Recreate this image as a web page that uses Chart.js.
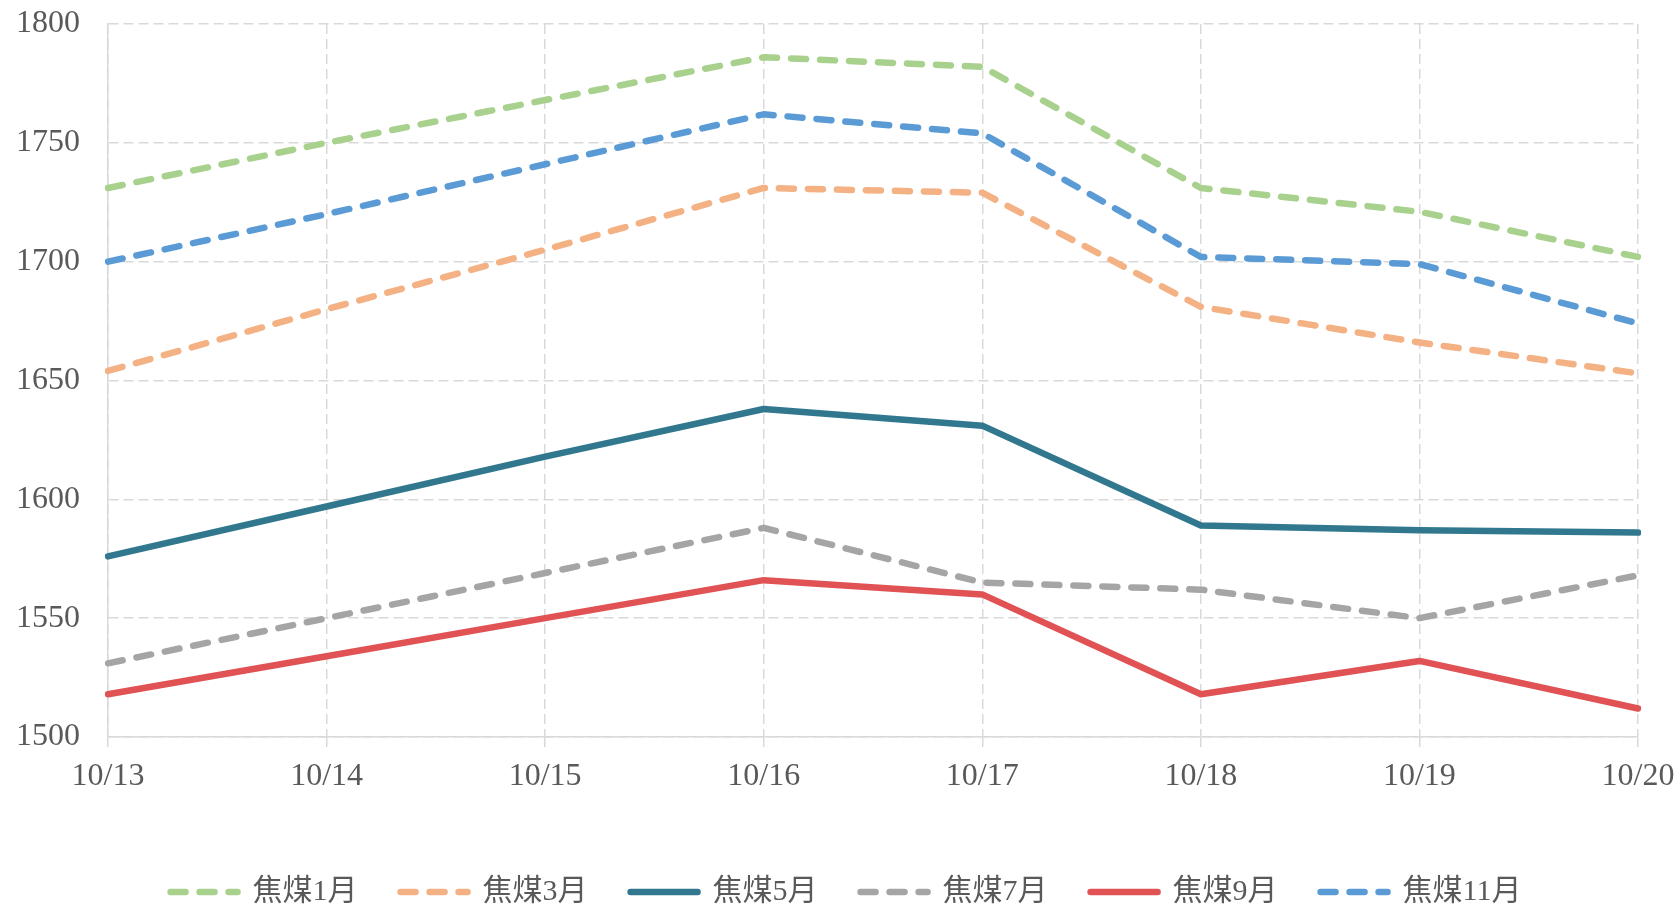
<!DOCTYPE html>
<html lang="zh-CN">
<head>
<meta charset="utf-8">
<title>焦煤价格走势</title>
<script src="https://cdn.jsdelivr.net/npm/chart.js@4.4.1/dist/chart.umd.min.js"></script>
<style>
  html, body { margin: 0; padding: 0; background: #fff; }
  #wrap { width: 1680px; height: 906px; }
</style>
</head>
<body>
<div id="wrap"><canvas id="priceChart" width="1680" height="906"></canvas></div>
<script>
// 日期与各合约价格
const dates = ['10/13', '10/14', '10/15', '10/16', '10/17', '10/18', '10/19', '10/20'];
const seriesNames = ['焦煤1月', '焦煤3月', '焦煤5月', '焦煤7月', '焦煤9月', '焦煤11月'];
const jm01 = [1731, 1750, 1768, 1786, 1782, 1731, 1721, 1702];
const jm03 = [1654, 1680, 1705, 1731, 1729, 1681, 1666, 1653];
const jm05 = [1576, 1597, 1618, 1638, 1631, 1589, 1587, 1586];
const jm07 = [1531, 1550, 1569, 1588, 1565, 1562, 1550, 1568];
const jm09 = [1518, 1534, 1550, 1566, 1560, 1518, 1532, 1512];
const jm11 = [1700, 1720, 1741, 1762, 1754, 1702, 1699, 1674];
const yTicks = [1500, 1550, 1600, 1650, 1700, 1750, 1800];

const TEXT = '#595959';
const GRID = '#D9D9D9';
const FONT = "'Liberation Serif', 'Noto Sans CJK SC', serif";
const DASH = [15, 14];
const LINE_W = 6.5;

function series(label, data, color, dashed) {
    return {
        label: label,
        data: data,
        borderColor: color,
        backgroundColor: color,
        borderWidth: LINE_W,
        borderDash: dashed ? DASH : [],
        borderCapStyle: 'round',
        borderJoinStyle: 'round',
        pointRadius: 0,
        tension: 0,
        fill: false
    };
}

// 图例沿用折线的虚线样式
function legendLabels(chart) {
    const items = Chart.defaults.plugins.legend.labels.generateLabels(chart);
    return items.map((item, i) => {
        const ds = chart.data.datasets[i];
        return Object.assign(item, {
            lineDash: ds.borderDash,
            lineCap: 'round',
            lineWidth: LINE_W,
            strokeStyle: ds.borderColor
        });
    });
}

const ctx = document.getElementById('priceChart').getContext('2d');
new Chart(ctx, {
    type: 'line',
    data: {
        labels: dates,
        datasets: [
            series(seriesNames[0], jm01, '#A9D18E', true),
            series(seriesNames[1], jm03, '#F4B183', true),
            series(seriesNames[2], jm05, '#31788F', false),
            series(seriesNames[3], jm07, '#A5A5A5', true),
            series(seriesNames[4], jm09, '#E05254', false),
            series(seriesNames[5], jm11, '#5B9BD5', true)
        ]
    },
    options: {
        responsive: false,
        animation: false,
        layout: { padding: { left: 16, right: 4, top: 24, bottom: 0 } },
        plugins: {
            tooltip: { enabled: false },
            legend: {
                position: 'bottom',
                maxHeight: 72,
                labels: {
                    usePointStyle: true,
                    pointStyle: 'line',
                    pointStyleWidth: 67,
                    padding: 43,
                    color: TEXT,
                    font: { family: FONT, size: 30 },
                    generateLabels: legendLabels
                }
            }
        },
        scales: {
            x: {
                grid: { color: GRID, lineWidth: 1.5, tickLength: 10, tickBorderDash: [10, 5] },
                border: { color: GRID, width: 1.5, dash: [10, 5] },
                ticks: { color: TEXT, padding: 10, maxRotation: 0, font: { family: FONT, size: 32 } },
                afterFit: scale => {
                    scale.height = 97;
                    scale.paddingRight = 42;
                }
            },
            y: {
                min: 1500,
                max: 1800,
                afterBuildTicks: scale => { scale.ticks = yTicks.map(v => ({ value: v })); },
                // 刻度文字宽 64，与轴线留 28 的间距
                afterFit: scale => {
                    scale.width = 92;
                    scale.paddingTop = 0;
                    scale.paddingBottom = 0;
                },
                grid: { color: GRID, lineWidth: 1.5, drawTicks: false },
                border: { color: GRID, width: 1.5, dash: [10, 5] },
                ticks: {
                    color: TEXT,
                    padding: 28,
                    font: { family: FONT, size: 32 },
                    callback: v => String(v)
                }
            }
        }
    }
});
</script>
</body>
</html>
